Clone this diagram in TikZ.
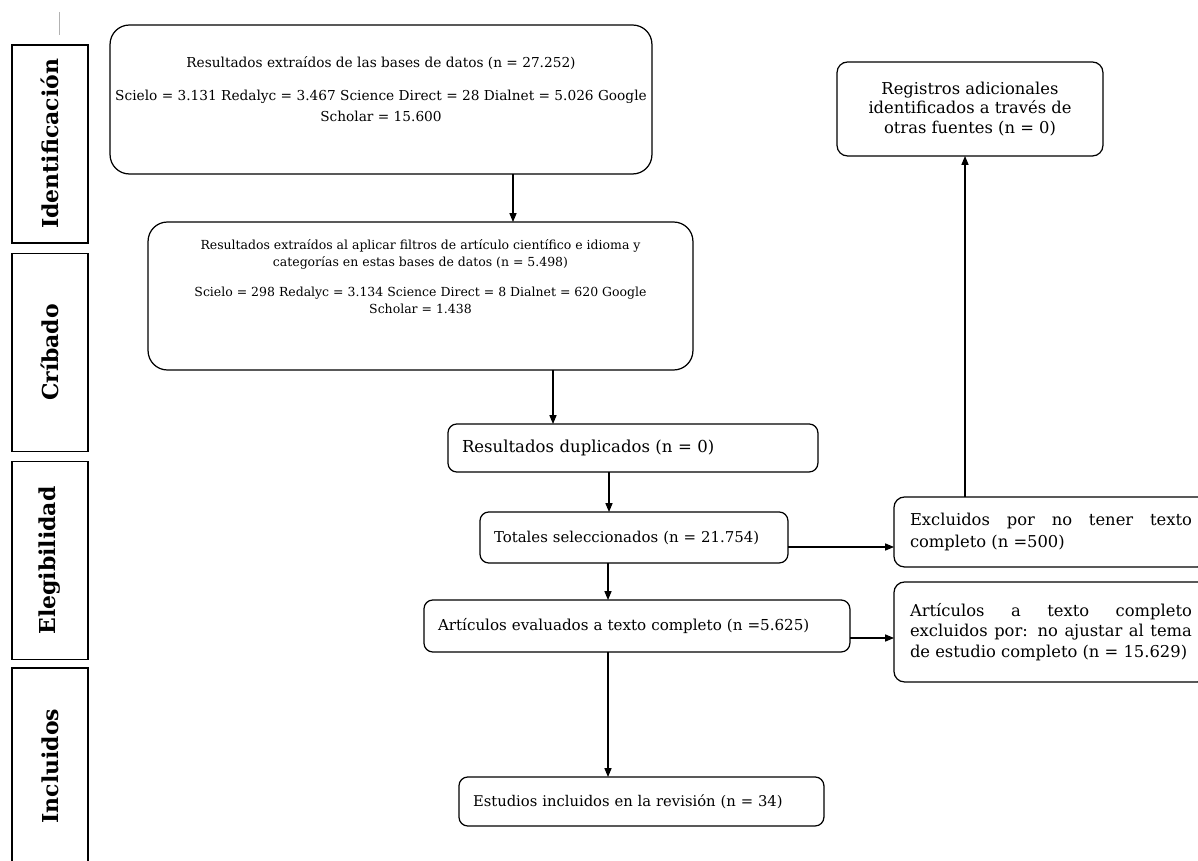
\documentclass[tikz,border=0pt]{standalone}
\usepackage{fontspec}
\setmainfont{DejaVu Serif}
\usetikzlibrary{arrows.meta}

\tikzset{
  caja/.style={draw, rounded corners=5pt, line width=0.7pt, inner sep=0pt, outer sep=0pt},
  izq/.style={caja, anchor=north west, inner xsep=0.28cm, align=left},
  fase/.style={draw, line width=0.9pt, inner sep=0pt, outer sep=0pt, rotate=90,
    minimum width=3.96cm, minimum height=1.52cm, font=\fontsize{12.5}{14}\selectfont\bfseries},
  flecha/.style={-{Triangle[length=5pt,width=4pt]}, line width=0.6pt}
}

\begin{document}
\begin{tikzpicture}[x=0.02cm,y=-0.02cm]
\useasboundingbox (0,0) rectangle (1198,861);

% fases
\draw[gray!60] (59,12) -- (59,35);
\node[fase] (identificacion) at (50,144) {Identificación};
\node[fase] (cribado) at (50,352.5) {Críbado};
\node[fase] (elegibilidad) at (50,560.5) {Elegibilidad};
\node[font=\fontsize{12.5}{14}\selectfont\bfseries, rotate=90] (incluidos) at (50,766) {Incluidos};
\draw[line width=0.9pt] (12,861) |- (88,668) -- (88,861);

% cajas
\node[caja, rounded corners=11pt, minimum width=10.84cm, minimum height=2.98cm, align=center,
  text depth=12pt, font=\fontsize{7.8}{12}\selectfont] (bases) at (381,99.5)
  {Resultados extraídos de las bases de datos (n = 27.252)\\[7pt]
   Scielo = 3.131 Redalyc = 3.467 Science Direct = 28 Dialnet = 5.026 Google\\
   Scholar = 15.600};
\node[caja, rounded corners=11pt, minimum width=10.9cm, minimum height=2.96cm, align=center,
  text depth=22pt, font=\fontsize{7.1}{9.7}\selectfont] (filtros) at (420.5,296)
  {Resultados extraídos al aplicar filtros de artículo científico e idioma y\\
   categorías en estas bases de datos (n = 5.498)\\[7pt]
   Scielo = 298 Redalyc = 3.134 Science Direct = 8 Dialnet = 620 Google\\
   Scholar = 1.438};
\node[izq, text width=6.84cm, minimum height=0.96cm, font=\fontsize{9.4}{11}\selectfont] (duplicados) at (448,424)
  {Resultados duplicados (n = 0)};
\node[izq, text width=5.6cm, minimum height=1.02cm, font=\fontsize{8.5}{10}\selectfont] (totales) at (480,512)
  {Totales seleccionados (n = 21.754)};
\node[izq, text width=7.96cm, minimum height=1.04cm, font=\fontsize{8.6}{10}\selectfont] (evaluados) at (424,600)
  {Artículos evaluados a texto completo (n =5.625)};
\node[izq, text width=6.74cm, minimum height=0.98cm, font=\fontsize{8.4}{10}\selectfont] (estudios) at (459,777)
  {Estudios incluidos en la revisión (n = 34)};
\node[caja, rounded corners=6pt, minimum width=5.32cm, minimum height=1.88cm, align=center,
  font=\fontsize{9.3}{11.2}\selectfont] (registros) at (970,109)
  {Registros adicionales\\ identificados a través de\\ otras fuentes (n = 0)};
\node[caja, anchor=north west, rounded corners=6pt, inner xsep=0.32cm, text width=5.64cm,
  minimum height=1.4cm, align=justify, font=\fontsize{9.3}{12.4}\selectfont] (sintexto) at (894,497)
  {Excluidos por no tener texto\linebreak completo (n =500)};
\node[caja, anchor=north west, rounded corners=6pt, inner xsep=0.32cm, text width=5.64cm,
  minimum height=2.0cm, align=justify, font=\fontsize{9.3}{11.7}\selectfont] (excluidos) at (894,582)
  {Artículos a texto completo\linebreak excluidos por: no ajustar al tema\linebreak
   de estudio completo (n = 15.629)};

% flechas
\draw[flecha] (bases.south -| 513,0) -- (filtros.north -| 513,0);
\draw[flecha] (filtros.south -| 553,0) -- (duplicados.north -| 553,0);
\draw[flecha] (duplicados.south -| 609,0) -- (totales.north -| 609,0);
\draw[flecha] (totales.south -| 608,0) -- (evaluados.north -| 608,0);
\draw[flecha] (evaluados.south -| 608,0) -- (estudios.north -| 608,0);
\draw[flecha] (totales.east |- 0,547) -- (sintexto.west |- 0,547);
\draw[flecha] (evaluados.east |- 0,638) -- (excluidos.west |- 0,638);
\draw[flecha] (sintexto.north -| 965,0) -- (registros.south -| 965,0);

\end{tikzpicture}
\end{document}
